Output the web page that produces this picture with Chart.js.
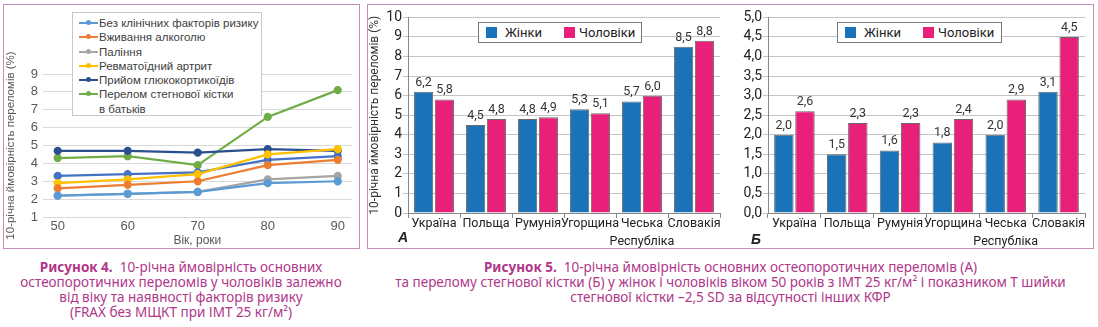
<!DOCTYPE html>
<html lang="uk">
<head>
<meta charset="utf-8">
<script src="https://cdn.jsdelivr.net/npm/chart.js@4.4.1/dist/chart.umd.min.js"></script>
<style>
  body { margin: 0; width: 1098px; height: 327px; background: #fff; position: relative; overflow: hidden; font-family: 'Liberation Sans', Arial, sans-serif; }
  .panel { position: absolute; border: 1.5px solid #C58DBB; box-sizing: border-box; }
  canvas { position: absolute; }
  .legend { position: absolute; background: #fff; box-sizing: border-box; }
  #lineLegend { left: 72px; top: 12px; width: 190px; height: 104px; border: 1px solid #C8C8C8; padding-top: 3px; font-size: 11.5px; color: #404040; }
  #lineLegend .row { position: relative; height: 14.3px; line-height: 14.3px; padding-left: 26px; white-space: nowrap; }
  #lineLegend .mk { position: absolute; left: 6px; top: 6px; width: 19px; height: 2px; }
  #lineLegend .mk i { position: absolute; left: 7px; top: -2px; width: 5px; height: 5px; border-radius: 50%; }
  .barLegend { height: 21px; border: 1px solid #7a7a7a; font-family: Roboto, sans-serif; font-size: 13px; color: #222; }
  .barLegend span { position: absolute; top: 2px; }
  .barLegend b { position: absolute; top: 4px; width: 11px; height: 11px; }
  .tag { position: absolute; font: italic bold 14px 'Liberation Sans', Arial, sans-serif; color: #222; }
  .caption { position: absolute; text-align: center; font-family: 'Noto Sans', sans-serif; font-size: 13.5px; line-height: 15px; color: #B0378A; white-space: nowrap; }
</style>
</head>
<body>
<div class="panel" style="left:3px; top:4px; width:357px; height:245px;"></div>
<div class="panel" style="left:367px; top:4px; width:727px; height:245px;"></div>

<canvas id="lineChart" width="354" height="207" style="left:4px; top:40px;"></canvas>
<canvas id="barChartA" width="356" height="240" style="left:368px; top:8px;"></canvas>
<canvas id="barChartB" width="362" height="240" style="left:727px; top:8px;"></canvas>

<div id="lineLegend" class="legend"></div>
<div id="legendA" class="legend barLegend" style="left:478px; top:22px; width:164px;"></div>
<div id="legendB" class="legend barLegend" style="left:837px; top:22px; width:165px;"></div>

<div class="tag" style="left:398px; top:229px;">А</div>
<div class="tag" style="left:751px; top:231px;">Б</div>

<div class="caption" style="left:0; width:362px; top:260px;">
  <b>Рисунок 4.</b>&nbsp; 10-річна ймовірність основних<br>
  остеопоротичних переломів у чоловіків залежно<br>
  від віку та наявності факторів ризику<br>
  (FRAX без МЩКТ при ІМТ 25 кг/м²)
</div>
<div class="caption" style="left:367px; width:727px; top:260px;">
  <b>Рисунок 5.</b>&nbsp; 10-річна ймовірність основних остеопоротичних переломів (А)<br>
  та перелому стегнової кістки (Б) у жінок і чоловіків віком 50 років з ІМТ 25 кг/м² і показником Т шийки<br>
  стегнової кістки –2,5 SD за відсутності інших КФР
</div>

<script>
// Figure 4: risk by age and risk factor
const ages = [50, 60, 70, 80, 90];
const noRiskFactors = [2.2, 2.3, 2.4, 2.9, 3.0];
const alcohol = [2.6, 2.8, 3.0, 3.9, 4.2];
const smoking = [2.2, 2.3, 2.4, 3.1, 3.3];
const rheumatoidArthritis = [2.9, 3.1, 3.4, 4.5, 4.8];
const unlabelledSeries = [3.3, 3.4, 3.5, 4.2, 4.4];
const glucocorticoids = [4.7, 4.7, 4.6, 4.8, 4.7];
const parentHipFracture = [4.3, 4.4, 3.9, 6.6, 8.1];

// Figure 5: countries, A = major osteoporotic fracture, Б = hip fracture
const countries = ['Україна', 'Польща', 'Румунія', 'Угорщина', ['Чеська', 'Республіка'], 'Словакія'];
const womenMajor = [6.2, 4.5, 4.8, 5.3, 5.7, 8.5];
const menMajor = [5.8, 4.8, 4.9, 5.1, 6.0, 8.8];
const womenHip = [2.0, 1.5, 1.6, 1.8, 2.0, 3.1];
const menHip = [2.6, 2.3, 2.3, 2.4, 2.9, 4.5];

const womenColor = '#1A73B9';
const menColor = '#E8207A';

// line series: [legend label, values, colour]; empty label = not in legend
const lineSeries = [
    ['Без клінічних факторів ризику', noRiskFactors, '#5B9BD5'],
    ['Вживання алкоголю', alcohol, '#ED7D31'],
    ['Паління', smoking, '#A5A5A5'],
    ['Ревматоїдний артрит', rheumatoidArthritis, '#FFC000'],
    ['', unlabelledSeries, '#4472C4'],
    ['Прийом глюкокортикоїдів', glucocorticoids, '#2A4F8F'],
    ['Перелом стегнової кістки\nв батьків', parentHipFracture, '#70AD47'],
];

const comma = v => v.toFixed(1).replace('.', ',');

// HTML legend for the line chart
function buildLineLegend() {
    const box = document.getElementById('lineLegend');
    lineSeries.filter(s => s[0]).forEach(([label, , color]) => {
        label.split('\n').forEach((text, k) => {
            const row = document.createElement('div');
            row.className = 'row';
            if (k === 0) {
                row.innerHTML = `<span class="mk" style="background:${color}"><i style="background:${color}"></i></span>`;
            }
            row.appendChild(document.createTextNode(text));
            box.appendChild(row);
        });
    });
}

function buildBarLegend(id) {
    const box = document.getElementById(id);
    box.innerHTML =
        `<b style="left:7px; background:${womenColor}"></b><span style="left:26px">Жінки</span>` +
        `<b style="left:85px; background:${menColor}"></b><span style="left:100px">Чоловіки</span>`;
}

// values above the bars
const barValueLabels = {
    id: 'barValueLabels',
    afterDatasetsDraw(chart) {
        const ctx = chart.ctx;
        ctx.save();
        ctx.font = '12.5px Roboto, sans-serif';
        ctx.fillStyle = '#333';
        ctx.textAlign = 'center';
        ctx.textBaseline = 'bottom';
        chart.data.datasets.forEach((ds, i) => {
            chart.getDatasetMeta(i).data.forEach((bar, j) => {
                ctx.fillText(comma(ds.data[j]), bar.x, bar.y - 3);
            });
        });
        ctx.restore();
    }
};

function createLineChart() {
    new Chart(document.getElementById('lineChart'), {
        type: 'line',
        data: {
            datasets: lineSeries.map(([label, values, color]) => ({
                label: label,
                data: values.map((v, i) => ({ x: ages[i], y: v })),
                borderColor: color,
                backgroundColor: color,
                pointBackgroundColor: color,
                pointBorderColor: color,
                pointRadius: 3,
                borderWidth: 2.25,
                fill: false
            }))
        },
        options: {
            responsive: false,
            animation: false,
            devicePixelRatio: 1,
            layout: { padding: { top: 34, right: 3, left: 0, bottom: 0 } },
            plugins: { legend: { display: false }, tooltip: { enabled: false } },
            scales: {
                x: {
                    type: 'linear',
                    min: 47.9,
                    max: 92,
                    afterBuildTicks: s => { s.ticks = ages.map(v => ({ value: v })); },
                    afterFit: s => { s.height = 30; },
                    grid: { display: false },
                    border: { display: false },
                    ticks: { font: { size: 13, family: 'Liberation Sans' }, color: '#595959', padding: -6 },
                    title: { display: true, text: 'Вік, роки', font: { size: 12, family: 'Liberation Sans' }, color: '#595959', padding: { top: 0, bottom: -1 } }
                },
                y: {
                    min: 1,
                    max: 9,
                    afterFit: s => { s.width = 39; },
                    grid: { color: '#D9D9D9', drawTicks: false },
                    border: { display: false },
                    ticks: { stepSize: 1, autoSkip: false, font: { size: 13, family: 'Liberation Sans' }, color: '#595959', padding: 5 },
                    title: { display: true, text: '10-річна ймовірність переломів (%)', font: { size: 11.5, family: 'Liberation Sans' }, color: '#595959', padding: 0 }
                }
            }
        }
    });
}

function createBarChart(id, women, men, yMax, step, yWidth, yTitle) {
    new Chart(document.getElementById(id), {
        type: 'bar',
        data: {
            labels: countries,
            datasets: [
                { label: 'Жінки', data: women, backgroundColor: womenColor, borderColor: '#6a6a6a', borderWidth: 1,
                  categoryPercentage: 0.8, barPercentage: 0.92 },
                { label: 'Чоловіки', data: men, backgroundColor: menColor, borderColor: '#6a6a6a', borderWidth: 1,
                  categoryPercentage: 0.8, barPercentage: 0.92 }
            ]
        },
        options: {
            responsive: false,
            animation: false,
            devicePixelRatio: 1,
            layout: { padding: { top: 6, right: 4, left: 0, bottom: 0 } },
            plugins: { legend: { display: false }, tooltip: { enabled: false } },
            scales: {
                x: {
                    afterFit: s => { s.height = 35; },
                    grid: { drawOnChartArea: false, color: '#888', tickLength: 5 },
                    border: { color: '#888' },
                    ticks: { font: { size: 12.5, family: 'Roboto', lineHeight: 1.5 }, color: '#222', padding: -4, maxRotation: 0, autoSkip: false }
                },
                y: {
                    min: 0,
                    max: yMax,
                    afterFit: s => { s.width = yWidth; },
                    grid: { color: '#C4C4C4', tickLength: 5 },
                    border: { color: '#888' },
                    ticks: {
                        stepSize: step,
                        autoSkip: false,
                        font: { size: 14, family: 'Roboto' },
                        color: '#222',
                        padding: 1,
                        callback: v => step < 1 ? comma(v) : String(v)
                    },
                    title: { display: !!yTitle, text: yTitle, font: { size: 12, family: 'Roboto' }, color: '#333', padding: 0 }
                }
            }
        },
        plugins: [barValueLabels]
    });
}

buildLineLegend();
buildBarLegend('legendA');
buildBarLegend('legendB');
createLineChart();
createBarChart('barChartA', womenMajor, menMajor, 10, 1, 40, '10-річна ймовірність переломів (%)');
createBarChart('barChartB', womenHip, menHip, 5, 0.5, 41, '');
</script>
</body>
</html>
